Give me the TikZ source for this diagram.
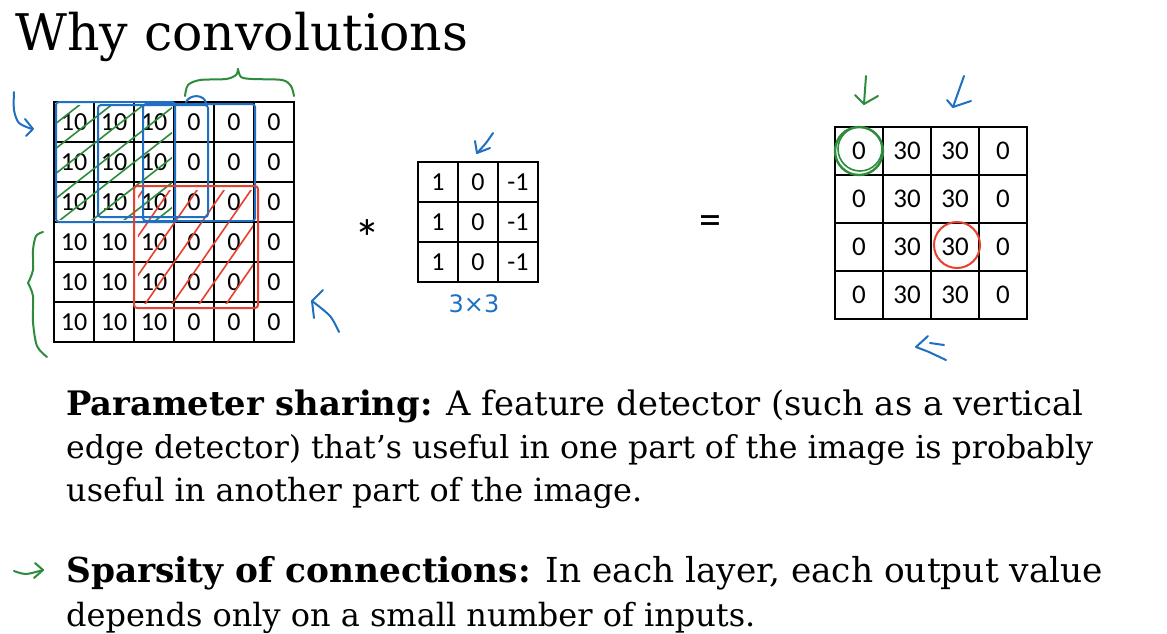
\documentclass[tikz,border=0pt]{standalone}
\usepackage{fontspec}
\usepackage{graphicx}
\usetikzlibrary{calc}
\setmainfont{DejaVu Serif}
\newfontfamily\cellfont{Carlito}
\newfontfamily\handfont{DejaVu Sans}
\definecolor{penblue}{HTML}{1F6FC2}
\definecolor{pengreen}{HTML}{2E8B3C}
\definecolor{penred}{HTML}{E8402F}
\begin{document}
\begin{tikzpicture}[x=1pt,y=-1pt,
  cellA/.style={draw, line width=1.4pt, minimum size=40pt, inner sep=0pt, font=\cellfont\fontsize{26}{26}\selectfont},
  cellB/.style={cellA, minimum size=48pt, font=\cellfont\fontsize{27}{27}\selectfont},
  txt/.style={anchor=base west, inner sep=0pt},
  pen/.style={line width=2pt, line cap=round, line join=round}]
\useasboundingbox (0,0) rectangle (1167,633);
\fill[white] (0,0) rectangle (1167,633);

% title
\node[txt] (title) at (15,50) {\resizebox{453pt}{!}{Why convolutions}};

% input 6x6
\foreach \i in {0,...,5} \foreach \j in {0,...,5} {
  \node[cellA] (in\i\j) at (74+40*\j,122+40*\i) {\ifnum\j<3 10\else 0\fi};
}
% filter 3x3
\foreach \i in {0,1,2} {
  \node[cellA] (f\i0) at (438,182+40*\i) {1};
  \node[cellA] (f\i1) at (478,182+40*\i) {0};
  \node[cellA] (f\i2) at (518,182+40*\i) {-1};
}
% output 4x4
\foreach \i in {0,...,3} \foreach \j/\v in {0/0,1/30,2/30,3/0} {
  \node[cellB] (o\i\j) at (859+48*\j,151+48*\i) {\v};
}
\node[font=\cellfont\fontsize{52}{52}\selectfont, inner sep=0pt] (star) at (367,238) {*};
\node[font=\cellfont\fontsize{44}{44}\selectfont, inner sep=0pt] (eq) at (710,225) {=};

% body text
\node[txt] (l1) at (66,415) {\resizebox{1017pt}{!}{\textbf{Parameter sharing:} A feature detector (such as a vertical}};
\node[txt] (l2) at (66,458) {\resizebox{1027pt}{!}{edge detector) that’s useful in one part of the image is probably}};
\node[txt] (l3) at (66,501) {\resizebox{576pt}{!}{useful in another part of the image.}};
\node[txt] (l5) at (66,582) {\resizebox{1037pt}{!}{\textbf{Sparsity of connections:} In each layer, each output value}};
\node[txt] (l6) at (66,626) {\resizebox{689pt}{!}{depends only on a small number of inputs.}};

% ---- hand-drawn annotations ----
% green hatching (top-left window)
\begin{scope}
  \clip (57,105) rectangle (172,219);
  \foreach \c in {-110,-78,...,180} \draw[pen, pengreen, line width=1.6pt] (\c,228) -- ++(160,-125);
\end{scope}
% red hatching
\begin{scope}
  \clip (138,190) rectangle (253,303);
  \foreach \c in {60,87,...,260} \draw[pen, penred, line width=1.6pt] (\c,310) -- ++(90,-130);
\end{scope}
% blue windows
\draw[pen, penblue, rounded corners=3pt] (56,102) rectangle (175,222);
\draw[pen, penblue, rounded corners=3pt] (98,105) rectangle (208,217);
\draw[pen, penblue, rounded corners=3pt] (143,104) rectangle (255,221);
\draw[pen, penblue] (186,102) .. controls (190,94) and (204,94) .. (206,103);
% red window
\draw[pen, penred, rounded corners=3pt] (134,186) rectangle (258,308);

% blue arrow top-left
\draw[pen, penblue] plot[smooth] coordinates {(14,92) (14,110) (19,123) (32,129)};
\draw[pen, penblue] (25,119) -- (33,129) -- (26,136);
% green brace top
\draw[pen, pengreen] plot[smooth] coordinates {(185,96) (188,85) (200,80) (226,79) (236,75) (238,69)};
\draw[pen, pengreen] plot[smooth] coordinates {(238,69) (241,77) (252,79) (282,80) (291,86) (294,96)};
% green brace left
\draw[pen, pengreen] plot[smooth] coordinates {(43,232) (36,236) (33,250) (33,270) (28,283)};
\draw[pen, pengreen] plot[smooth] coordinates {(28,283) (33,296) (33,322) (37,346) (47,357)};
% blue arrow bottom-right of input
\draw[pen, penblue] plot[smooth] coordinates {(339,332) (330,316) (312,301)};
\draw[pen, penblue] (323,290) -- (312,301) -- (314,318);

% filter arrow and label
\draw[pen, penblue] plot[smooth] coordinates {(493,133) (486,143) (478,152)};
\draw[pen, penblue] (475,141) -- (477,153) -- (490,148);
\node[font=\handfont\fontsize{24}{24}\selectfont, text=penblue, inner sep=0pt] (dim) at (474,304) {3×3};

% output annotations
\draw[pen, pengreen] (866,76) -- (864,104);
\draw[pen, pengreen] (855,95) -- (864,104) -- (878,96);
\draw[pen, penblue] (964,76) -- (953,107);
\draw[pen, penblue] (947,100) -- (953,107) -- (971,101);
\draw[pen, pengreen, line width=2.4pt] (o00.center) circle (24pt);
\draw[pen, pengreen, line width=1.6pt] ($(o00.center)+(1,-2)$) circle (22pt);
\draw[pen, penred] (957,245) circle (23pt);
\draw[pen, penblue] (928,336) -- (916,347) -- (929,352) -- (946,360);
\draw[pen, penblue] (930,343) -- (944,345);

% green arrow before Sparsity
\draw[pen, pengreen] plot[smooth] coordinates {(14,571) (26,574) (43,570)};
\draw[pen, pengreen] (35,563) -- (43,570) -- (34,578);
\end{tikzpicture}
\end{document}
